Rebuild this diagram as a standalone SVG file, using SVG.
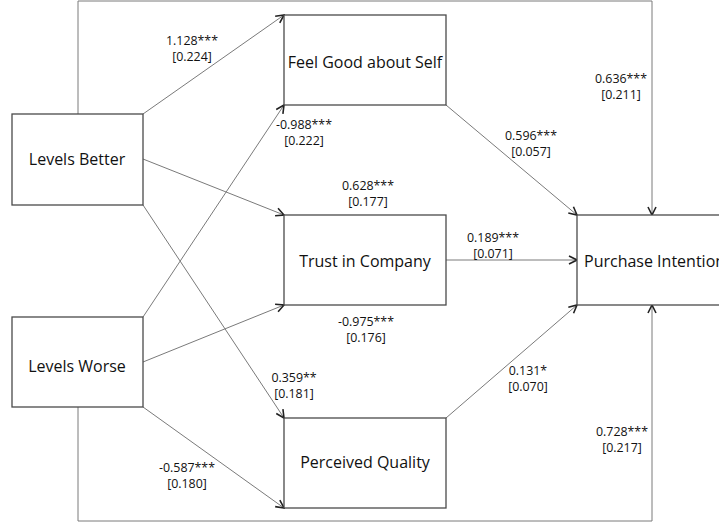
<svg xmlns="http://www.w3.org/2000/svg" width="719" height="527" viewBox="0 0 719 527">
  <style>
    .node rect { fill: #ffffff; stroke: #4a4a4a; stroke-width: 1.3; }
    .node text { font-family: "Open Sans", "Liberation Sans", sans-serif; font-size: 16px; fill: #111; text-anchor: middle; }
    .edge { fill: none; stroke: #7a7a7a; stroke-width: 1; }
    .coef { font-family: "Open Sans", "Liberation Sans", sans-serif; font-size: 12.4px; fill: #111; text-anchor: middle; }
  </style>
  <defs>
    <marker id="arrow" viewBox="0 0 10 10" refX="9" refY="5" markerWidth="10" markerHeight="10" markerUnits="userSpaceOnUse" orient="auto">
      <path d="M1,1 L9,5 L1,9" fill="none" stroke="#222" stroke-width="1.6"/>
    </marker>
  </defs>
  <rect width="719" height="527" fill="#ffffff"/>

  <g id="connectors">
    <!-- outer frame: Levels Better to Purchase Intention -->
    <polyline class="edge" points="78,114 78,1 652,1 652,215" marker-end="url(#arrow)"/>
    <!-- outer frame: Levels Worse to Purchase Intention -->
    <polyline class="edge" points="78,407 78,521 652,521 652,305" marker-end="url(#arrow)"/>
    <line class="edge" x1="143" y1="114" x2="284" y2="15" marker-end="url(#arrow)"/>
    <line class="edge" x1="143" y1="317" x2="284" y2="105" marker-end="url(#arrow)"/>
    <line class="edge" x1="143" y1="159" x2="284" y2="215" marker-end="url(#arrow)"/>
    <line class="edge" x1="143" y1="205" x2="284" y2="418" marker-end="url(#arrow)"/>
    <line class="edge" x1="143" y1="362" x2="284" y2="305" marker-end="url(#arrow)"/>
    <line class="edge" x1="143" y1="407" x2="284" y2="508" marker-end="url(#arrow)"/>
    <line class="edge" x1="446" y1="105" x2="577" y2="215" marker-end="url(#arrow)"/>
    <line class="edge" x1="446" y1="260" x2="577" y2="260" marker-end="url(#arrow)"/>
    <line class="edge" x1="446" y1="418" x2="577" y2="305" marker-end="url(#arrow)"/>
  </g>

  <g id="levels-better" class="node">
    <rect x="12" y="114" width="131" height="91"/>
    <text x="77" y="165">Levels Better</text>
  </g>
  <g id="levels-worse" class="node">
    <rect x="12" y="317" width="131" height="90"/>
    <text x="77" y="372">Levels Worse</text>
  </g>
  <g id="feel-good" class="node">
    <rect x="284" y="15" width="162" height="90"/>
    <text x="365" y="68">Feel Good about Self</text>
  </g>
  <g id="trust" class="node">
    <rect x="284" y="215" width="162" height="90"/>
    <text x="365" y="267">Trust in Company</text>
  </g>
  <g id="quality" class="node">
    <rect x="284" y="418" width="162" height="90"/>
    <text x="365" y="468">Perceived Quality</text>
  </g>
  <g id="purchase" class="node">
    <rect x="577" y="215" width="160" height="90"/>
    <text x="584" y="267" style="text-anchor:start">Purchase Intention</text>
  </g>

  <g id="coefficients">
    <text class="coef" x="192" y="45">1.128***</text>
    <text class="coef" x="192" y="61">[0.224]</text>
    <text class="coef" x="304" y="129">-0.988***</text>
    <text class="coef" x="304" y="145">[0.222]</text>
    <text class="coef" x="368" y="190">0.628***</text>
    <text class="coef" x="368" y="206">[0.177]</text>
    <text class="coef" x="531" y="140">0.596***</text>
    <text class="coef" x="531" y="156">[0.057]</text>
    <text class="coef" x="621" y="83">0.636***</text>
    <text class="coef" x="621" y="99">[0.211]</text>
    <text class="coef" x="493" y="242">0.189***</text>
    <text class="coef" x="493" y="258">[0.071]</text>
    <text class="coef" x="366" y="326">-0.975***</text>
    <text class="coef" x="366" y="342">[0.176]</text>
    <text class="coef" x="294" y="382">0.359**</text>
    <text class="coef" x="294" y="398">[0.181]</text>
    <text class="coef" x="528" y="375">0.131*</text>
    <text class="coef" x="528" y="391">[0.070]</text>
    <text class="coef" x="187" y="472">-0.587***</text>
    <text class="coef" x="187" y="488">[0.180]</text>
    <text class="coef" x="622" y="436">0.728***</text>
    <text class="coef" x="622" y="452">[0.217]</text>
  </g>
</svg>
